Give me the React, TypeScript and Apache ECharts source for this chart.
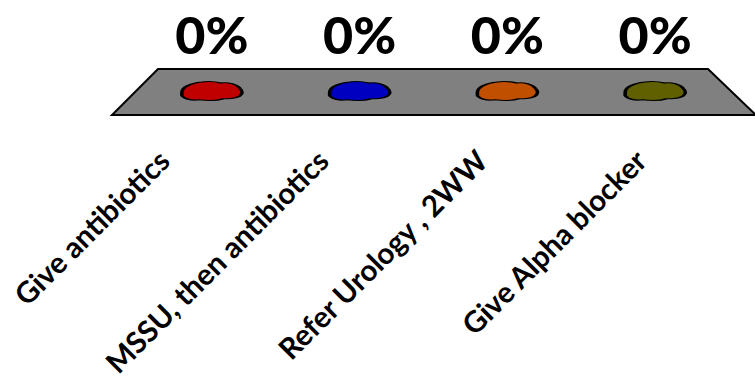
import React, { useEffect, useRef } from "react";
import * as echarts from "echarts";

const categories: string[] = [
  "Give antibiotics",
  "MSSU, then antibiotics",
  "Refer Urology , 2WW",
  "Give Alpha blocker",
];
const values: number[] = [0, 0, 0, 0];
const colors: string[] = ["#C00000", "#0000C0", "#C05000", "#606000"];

const BLOB =
  "path://M4,11 C4,6 12,2 22,1 C30,0 36,1 40,2 C46,1 54,3 57,7 C60,10 59,13 56,15 C52,17 46,17 42,17 C36,19 28,19 20,18 C12,19 6,17 4,14 Z";

export default function App() {
  const ref = useRef<HTMLDivElement>(null);
  useEffect(() => {
    if (!ref.current) return;
    const chart = echarts.init(ref.current, null, { renderer: "svg" });
    chart.setOption({
      animation: false,
      backgroundColor: "#ffffff",
      grid: [
        { left: 138, right: 26, top: 20, bottom: 289 },
        { left: 84, right: 35, top: 140, bottom: 228 },
      ],
      xAxis: [
        {
          type: "category",
          gridIndex: 0,
          data: categories,
          axisLine: { show: false },
          axisTick: { show: false },
          axisLabel: { show: false },
        },
        {
          type: "category",
          gridIndex: 1,
          data: categories,
          axisLine: { show: false },
          axisTick: { show: false },
          axisLabel: {
            show: true,
            rotate: 45,
            margin: 8,
            interval: 0,
            fontFamily: "Lato",
            fontWeight: "bold",
            fontSize: 29.5,
            color: "#000000",
          },
        },
      ],
      yAxis: [
        { type: "value", gridIndex: 0, min: 0, max: 1, show: false },
        { type: "value", gridIndex: 1, min: 0, max: 1, show: false },
      ],
      graphic: [
        {
          type: "polygon",
          z: 0,
          shape: {
            points: [
              [158, 69],
              [708, 69],
              [756, 115],
              [112, 115],
            ],
          },
          style: { fill: "#808080", stroke: "#000000", lineWidth: 2 },
        },
      ],
      series: [
        {
          type: "scatter",
          xAxisIndex: 0,
          yAxisIndex: 0,
          z: 10,
          symbol: BLOB,
          symbolSize: [60, 19],
          data: values.map((v, i) => ({
            value: v,
            itemStyle: { color: colors[i] },
          })),
          itemStyle: { borderColor: "#000000", borderWidth: 2, opacity: 1 },
          emphasis: { disabled: true },
          label: {
            show: true,
            position: "inside",
            offset: [0, -57],
            formatter: (p: any) => `${p.value}%`,
            fontFamily: "Lato",
            fontWeight: 900,
            fontSize: 52,
            color: "#000000",
            opacity: 1,
          },
        },
      ],
    });
    return () => chart.dispose();
  }, []);
  return (
    <div
      ref={ref}
      style={{ position: "fixed", left: 0, top: 0, width: 755, height: 380 }}
    />
  );
}
